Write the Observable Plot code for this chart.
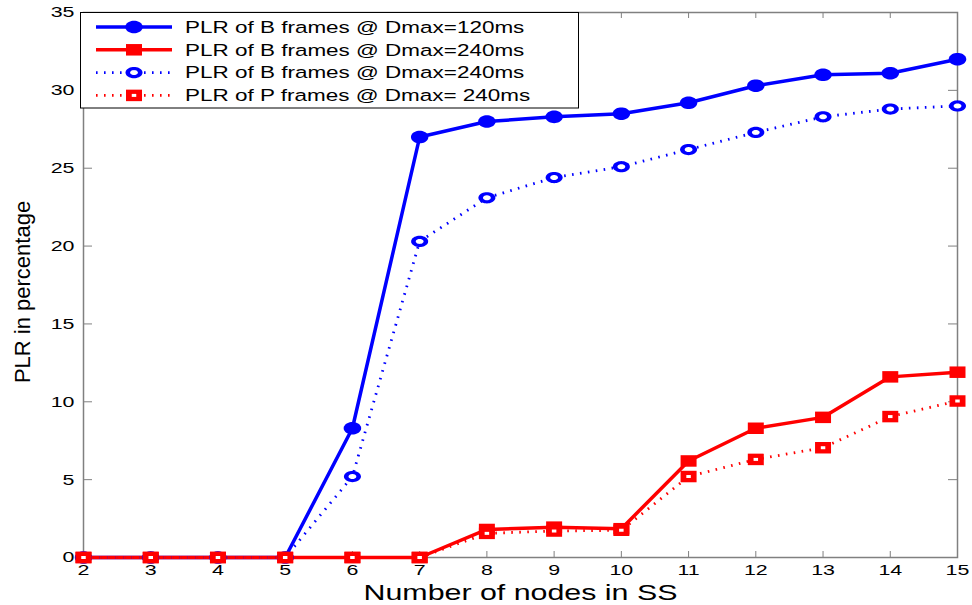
<!DOCTYPE html>
<html><head><meta charset="utf-8">
<script src="https://cdn.jsdelivr.net/npm/d3@7"></script>
<script src="https://cdn.jsdelivr.net/npm/@observablehq/plot@0.6"></script>
<style>
body{margin:0;background:#fff}
#chart{position:relative;width:972px;height:605px}
</style>
</head><body><div id="chart"></div>
<script>
// ---- data ----
const nodes = [2, 3, 4, 5, 6, 7, 8, 9, 10, 11, 12, 13, 14, 15];
const plrB120 = [0, 0, 0, 0, 8.3, 27.0, 28.0, 28.3, 28.5, 29.2, 30.3, 31.0, 31.1, 32.0];
const plrB240 = [0, 0, 0, 0, 0, 0, 1.8, 1.95, 1.85, 6.2, 8.3, 9.0, 11.6, 11.9];
const plrB240b = [0, 0, 0, 0, 5.2, 20.3, 23.1, 24.4, 25.1, 26.2, 27.3, 28.3, 28.8, 29.0];
const plrP240 = [0, 0, 0, 0, 0, 0, 1.55, 1.7, 1.75, 5.2, 6.3, 7.05, 9.05, 10.05];
const seriesNames = [
  "PLR of B frames @ Dmax=120ms",
  "PLR of B frames @ Dmax=240ms",
  "PLR of B frames @ Dmax=240ms",
  "PLR of P frames @ Dmax= 240ms"
];
const xTicks = [2, 3, 4, 5, 6, 7, 8, 9, 10, 11, 12, 13, 14, 15];
const yTicks = [0, 5, 10, 15, 20, 25, 30, 35];
const xDomain = [2, 15];
const yDomain = [0, 35];
const xLabel = "Number of nodes in SS";
const yLabel = "PLR in percentage";

// ---- styles ----
const BLUE = "#0000ff", RED = "#ff0000", AXIS = "#808080";
const STRETCH = 1.38;
const FONT = "'Liberation Sans', Arial, Helvetica, sans-serif";

function ellipseSym(rx, ry) {
  return {draw(ctx) {
    const n = 40;
    for (let i = 0; i < n; i++) {
      const a = 2 * Math.PI * i / n, x = rx * Math.cos(a), y = ry * Math.sin(a);
      if (i === 0) ctx.moveTo(x, y); else ctx.lineTo(x, y);
    }
    ctx.closePath();
  }};
}
function rectSym(w, h) {
  return {draw(ctx) {
    ctx.moveTo(-w / 2, -h / 2); ctx.lineTo(w / 2, -h / 2);
    ctx.lineTo(w / 2, h / 2); ctx.lineTo(-w / 2, h / 2); ctx.closePath();
  }};
}
const symFilledCircle = ellipseSym(8.7, 6.3);
const symHollowOuter = ellipseSym(8.5, 5.6);
const symHollowInner = ellipseSym(3.9, 2.5);
const symSquare = rectSym(16, 11.5);
const symSquareInner = rectSym(4.5, 3);

const rows = (vals) => nodes.map((n, i) => ({n, v: vals[i]}));
const s1 = rows(plrB120), s2 = rows(plrB240), s3 = rows(plrB240b), s4 = rows(plrP240);

const solid = {strokeWidth: 3.5, strokeLinejoin: "round"};
const dotted = {strokeWidth: 2.8, strokeDasharray: "1.6,6.4", strokeLinecap: "butt"};

const chart = Plot.plot({
  width: 972, height: 605,
  marginLeft: 83, marginRight: 15, marginTop: 12, marginBottom: 48,
  style: {fontFamily: FONT, fontSize: "15px", color: "black", background: "white"},
  x: {domain: xDomain},
  y: {domain: yDomain},
  marks: [
    Plot.frame({stroke: AXIS, strokeWidth: 1.5}),
    Plot.ruleX(xTicks, {x: d => d, y1: yDomain[0], y2: yDomain[0], insetTop: -6, stroke: AXIS}),
    Plot.ruleX(xTicks, {x: d => d, y1: yDomain[1], y2: yDomain[1], insetBottom: -6, stroke: AXIS}),
    Plot.ruleY(yTicks, {y: d => d, x1: xDomain[0], x2: xDomain[0], insetRight: -9, stroke: AXIS}),
    Plot.ruleY(yTicks, {y: d => d, x1: xDomain[1], x2: xDomain[1], insetLeft: -9, stroke: AXIS}),
    Plot.axisX({ticks: xTicks, tickSize: 0, tickPadding: 6, tickFormat: d => String(d), label: null, fontSize: 15.5}),
    Plot.axisY({ticks: yTicks, tickSize: 0, tickPadding: 9, tickFormat: d => String(d), label: null, fontSize: 15.5}),
    // series 1: B frames, Dmax=120ms
    Plot.line(s1, {x: "n", y: "v", stroke: BLUE, ...solid}),
    Plot.dot(s1, {x: "n", y: "v", symbol: symFilledCircle, fill: BLUE, stroke: "none"}),
    // series 2: B frames, Dmax=240ms
    Plot.line(s2, {x: "n", y: "v", stroke: RED, ...solid}),
    Plot.dot(s2, {x: "n", y: "v", symbol: symSquare, fill: RED, stroke: "none"}),
    // series 3: B frames, Dmax=240ms (dotted, hollow circles)
    Plot.line(s3, {x: "n", y: "v", stroke: BLUE, ...dotted}),
    Plot.dot(s3, {x: "n", y: "v", symbol: symHollowOuter, fill: BLUE, stroke: "none"}),
    Plot.dot(s3, {x: "n", y: "v", symbol: symHollowInner, fill: "white", stroke: "none"}),
    // series 4: P frames, Dmax=240ms (dotted, hollow squares)
    Plot.line(s4, {x: "n", y: "v", stroke: RED, ...dotted}),
    Plot.dot(s4, {x: "n", y: "v", symbol: symSquare, fill: RED, stroke: "none"}),
    Plot.dot(s4, {x: "n", y: "v", symbol: symSquareInner, fill: "white", stroke: "none"}),
    // axis titles
    Plot.text([xLabel], {text: d => d, frameAnchor: "bottom", lineAnchor: "middle", textAnchor: "middle", dy: 35, fontSize: 22, fill: "black"}),
    Plot.text([yLabel], {text: d => d, frameAnchor: "left", lineAnchor: "middle", textAnchor: "middle", dx: -61, dy: 7, rotate: -90, fontSize: 22, fill: "black"})
  ]
});

document.getElementById("chart").append(chart);

// ---- legend (inside the plot, top-left) ----
const svg = d3.select(chart);
const lg = svg.append("g").attr("class", "legend").attr("text-anchor", "start");
lg.append("rect").attr("x", 80.5).attr("y", 12.5).attr("width", 498).attr("height", 95.5)
  .attr("fill", "white").attr("stroke", "black").attr("stroke-width", 1);
const legendSpec = [
  {color: BLUE, line: solid, markers: [[symFilledCircle, BLUE]]},
  {color: RED, line: solid, markers: [[symSquare, RED]]},
  {color: BLUE, line: dotted, markers: [[symHollowOuter, BLUE], [symHollowInner, "white"]]},
  {color: RED, line: dotted, markers: [[symSquare, RED], [symSquareInner, "white"]]}
];
seriesNames.forEach((name, i) => {
  const cy = 27 + i * 22.8;
  const spec = legendSpec[i];
  const ln = lg.append("line").attr("x1", 96).attr("x2", 172).attr("y1", cy).attr("y2", cy)
    .attr("stroke", spec.color).attr("stroke-width", spec.line.strokeWidth);
  if (spec.line.strokeDasharray) ln.attr("stroke-dasharray", spec.line.strokeDasharray);
  spec.markers.forEach(([sym, fill]) => {
    lg.append("path").attr("d", d3.symbol(sym)()).attr("fill", fill)
      .attr("transform", `translate(134,${cy})`);
  });
  lg.append("text").attr("x", 185).attr("y", cy).attr("dy", "0.36em")
    .attr("text-anchor", "start")
    .attr("font-size", 16.3).attr("font-family", FONT).attr("fill", "black").text(name);
});

// ---- horizontal stretch of the text, as in the reference figure ----
chart.querySelectorAll("text").forEach(t => {
  if (t.textContent === yLabel) return;
  const L = t.getComputedTextLength();
  if (L > 0) {
    t.setAttribute("textLength", (L * STRETCH).toFixed(2));
    t.setAttribute("lengthAdjust", "spacingAndGlyphs");
  }
});
</script>
</body></html>
